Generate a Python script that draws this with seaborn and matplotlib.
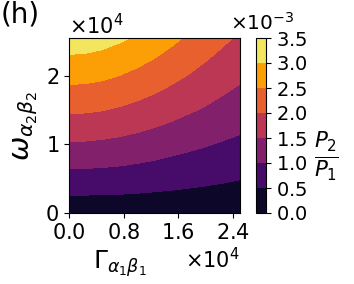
import numpy as np
import seaborn as sns
import matplotlib
matplotlib.use('Agg')
import matplotlib.pyplot as plt
import matplotlib.transforms as mtransforms

# Grid (x: Gamma_a1b1, y: omega_a2b2)
gamma_vals = [0, 2500, 5000, 7500, 10000, 12500,
              15000, 17500, 20000, 22500, 25000]
omega_vals = [0, 5000, 10000, 15000, 20000, 25500]

# P2/P1 in units of 1e-3, one row per omega value
ratio_row_0 = [0.16, 0.16, 0.16, 0.16, 0.16, 0.16,
               0.16, 0.16, 0.16, 0.16, 0.16]
ratio_row_1 = [0.82, 0.81, 0.80, 0.78, 0.75, 0.71,
               0.67, 0.63, 0.59, 0.55, 0.51]
ratio_row_2 = [1.45, 1.44, 1.41, 1.37, 1.31, 1.25,
               1.17, 1.10, 1.03, 0.96, 0.90]
ratio_row_3 = [2.07, 2.05, 2.01, 1.94, 1.86, 1.76,
               1.66, 1.55, 1.45, 1.34, 1.25]
ratio_row_4 = [2.65, 2.63, 2.58, 2.49, 2.38, 2.26,
               2.12, 1.98, 1.84, 1.71, 1.58]
ratio_row_5 = [3.27, 3.25, 3.18, 3.07, 2.94, 2.78,
               2.61, 2.43, 2.26, 2.09, 1.93]

levels_e3 = [0.0, 0.5, 1.0, 1.5, 2.0, 2.5, 3.0, 3.5]

if __name__ == "__main__":

    sns.set_style('ticks', {
        'axes.edgecolor': 'black',
        'xtick.color': 'black',
        'ytick.color': 'black',
        'text.color': 'black',
        'axes.labelcolor': 'black',
    })
    plt.rcParams['font.family'] = ['DejaVu Sans']
    plt.rcParams['mathtext.fontset'] = 'dejavusans'
    plt.rcParams['axes.formatter.limits'] = (-2, 3)
    plt.rcParams['axes.formatter.use_mathtext'] = True
    plt.rcParams['font.size'] = 15

    ratio = np.array([ratio_row_0, ratio_row_1, ratio_row_2,
                      ratio_row_3, ratio_row_4, ratio_row_5]) * 1e-3
    levels = np.array(levels_e3) * 1e-3

    fig = plt.figure(figsize=(3.54, 2.84), dpi=100)
    ax = fig.add_axes([69 / 354, 71 / 284, 171 / 354, 175 / 284])
    cax = fig.add_axes([256 / 354, 71 / 284, 10 / 354, 175 / 284])

    cf = ax.contourf(gamma_vals, omega_vals, ratio,
        levels=levels, cmap='inferno')
    ax.set_xticks([0, 8000, 16000, 24000])
    ax.set_yticks([0, 10000, 20000])
    ax.tick_params(labelsize=15)
    ax.xaxis.get_offset_text().set_fontsize(15)
    ax.yaxis.get_offset_text().set_fontsize(15)

    ax.set_xlabel(r'$\Gamma_{\alpha_1\beta_1}$', fontsize=18)
    ax.xaxis.set_label_coords(0.3, -0.2)
    ax.set_ylabel(r'$\omega_{\alpha_2\beta_2}$', fontsize=21)

    cbar = fig.colorbar(cf, cax=cax)
    cbar.set_ticks(levels)
    cbar.ax.tick_params(labelsize=14)
    # offset text sits a little higher, clear of the 3.5 label
    offset = cbar.ax.yaxis.get_offset_text()
    offset.set_fontsize(14.5)
    offset.set_ha('left')
    offset.set_x(-2.6)
    offset.set_transform(offset.get_transform() +
        mtransforms.ScaledTranslation(0, 3 / 72, fig.dpi_scale_trans))
    cbar.set_label(r'$\frac{P_2}{P_1}$', rotation=0, fontsize=22,
        ha='left', va='center')
    cbar.ax.yaxis.set_label_coords(5.8, 0.32)

    fig.text(0.003, 0.997, '(h)', fontsize=20, ha='left', va='top')

    plt.savefig('out.png', dpi=100)
